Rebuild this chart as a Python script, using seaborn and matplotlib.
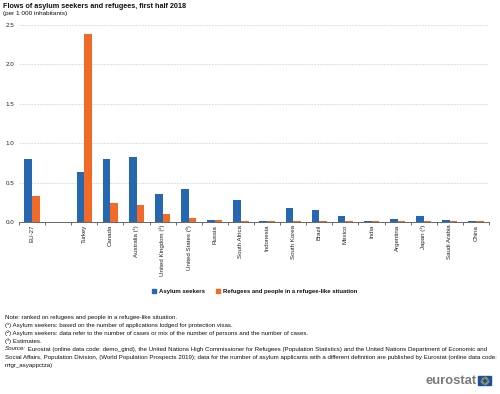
import numpy as np
import pandas as pd
import seaborn as sns
import matplotlib.pyplot as plt
from matplotlib.lines import Line2D
from matplotlib.patches import Rectangle

countries = ['EU-27', ' ', 'Turkey', 'Canada', 'Australia (¹)', 'United Kingdom (²)', 'United States (³)',
             'Russia', 'South Africa', 'Indonesia', 'South Korea', 'Brazil', 'Mexico', 'India',
             'Argentina', 'Japan (¹)', 'Saudi Arabia', 'China']
asylum = [0.80, np.nan, 0.64, 0.80, 0.83, 0.35, 0.42, 0.03, 0.28, 0.01, 0.18, 0.155, 0.08, 0.01,
          0.035, 0.08, 0.03, 0.01]
refugees = [0.33, np.nan, 2.38, 0.245, 0.21, 0.10, 0.055, 0.025, 0.015, 0.01, 0.01, 0.01, 0.01, 0.01,
            0.01, 0.01, 0.01, 0.01]
series_names = ['Asylum seekers', 'Refugees and people in a refugee-like situation']
colors = ['#2567B0', '#F26A27']
yticks = [0.0, 0.5, 1.0, 1.5, 2.0, 2.5]

notes = ['Note: ranked on refugees and people in a refugee-like situation.',
         '(¹) Asylum seekers: based on the number of applications lodged for protection visas.',
         '(²) Asylum seekers: data refer to the number of cases or mix of the number of persons and the number of cases.',
         '(³) Estimates.']
source = [' Eurostat (online data code: demo_gind), the United Nations High Commissioner for Refugees (Population Statistics) and the United Nations Department of Economic and',
          'Social Affairs, Population Division, (World Population Prospects 2019); data for the number of asylum applicants with a different definition are published by Eurostat (online data code:',
          'migr_asyappctza)']

plt.rcParams['font.family'] = ['Liberation Sans', 'DejaVu Sans']
W, H = 500, 394

df = pd.DataFrame({'country': countries, series_names[0]: asylum, series_names[1]: refugees})
df = df.melt(id_vars='country', var_name='series', value_name='value')

fig = plt.figure(figsize=(W / 100, H / 100), dpi=100)
ax = fig.add_axes([19 / W, 1 - 222 / H, 470 / W, 197 / H])
sns.barplot(data=df, x='country', y='value', hue='series', order=countries, hue_order=series_names,
            palette=colors, width=0.58, saturation=1, legend=False, ax=ax, zorder=2)

ax.set_xlim(-0.5, len(countries) - 0.5)
ax.set_ylim(0, 2.5)
ax.set_xlabel('')
ax.set_ylabel('')
ax.set_yticks(yticks)
ax.set_yticklabels([f'{t:.1f}' for t in yticks], fontsize=4.5, color='#222222')
ax.yaxis.grid(True, color='#dddddd', lw=0.7, ls=(0, (2, 1)))
ax.set_axisbelow(True)
ax.tick_params(axis='y', length=0, pad=3.5)
ax.set_xticks(np.arange(len(countries) + 1) - 0.5, minor=True)
ax.set_xticks(np.arange(len(countries)))
ax.set_xticklabels(countries, rotation=90, fontsize=4.45, color='#222222')
ax.tick_params(axis='x', which='major', length=0, pad=2)
ax.tick_params(axis='x', which='minor', length=2, width=0.6, color='#555555', direction='out')
for s in ['top', 'right', 'left']:
    ax.spines[s].set_visible(False)
ax.spines['bottom'].set_color('#666666')
ax.spines['bottom'].set_linewidth(0.7)


def put(x, y, s, **kw):
    kw.setdefault('fontsize', 4.4)
    kw.setdefault('color', '#111111')
    fig.text(x / W, 1 - y / H, s, va='center', **kw)


put(3, 6, 'Flows of asylum seekers and refugees, first half 2018', fontsize=5.2, fontweight='bold', color='#111111')
put(3, 14, '(per 1 000 inhabitants)', fontsize=4.6)

handles = [Line2D([], [], marker='s', ls='', color=c, markersize=2.6) for c in colors]
fig.legend(handles, series_names, loc='center', bbox_to_anchor=(252.5 / W, 1 - 291.5 / H), ncol=2, frameon=False,
           prop={'size': 4.3, 'weight': 'bold'}, handletextpad=-0.2, columnspacing=1.2, labelcolor='#111111')

y = 317
for line in notes:
    put(5, y, line)
    y += 8
put(5, y, 'Source:', fontstyle='italic')
put(26, y, source[0])
y += 8
put(5, y, source[1])
y += 8
put(5, y, source[2])

put(426, 381, 'eurostat', fontsize=9.4, fontweight='bold', color='#7a7a7a')
fig.patches.append(Rectangle((478 / W, 1 - 385 / H), 13 / W, 9 / H, transform=fig.transFigure, color='#1f4e9c'))
angles = np.arange(12) * np.pi / 6
fig.add_artist(Line2D((484.5 + 3.2 * np.cos(angles)) / W, 1 - (380.5 + 3.2 * np.sin(angles)) / H, ls='', marker='.',
                      markersize=0.6, color='#f5d327', transform=fig.transFigure))

fig.savefig('out.png', dpi=100)
